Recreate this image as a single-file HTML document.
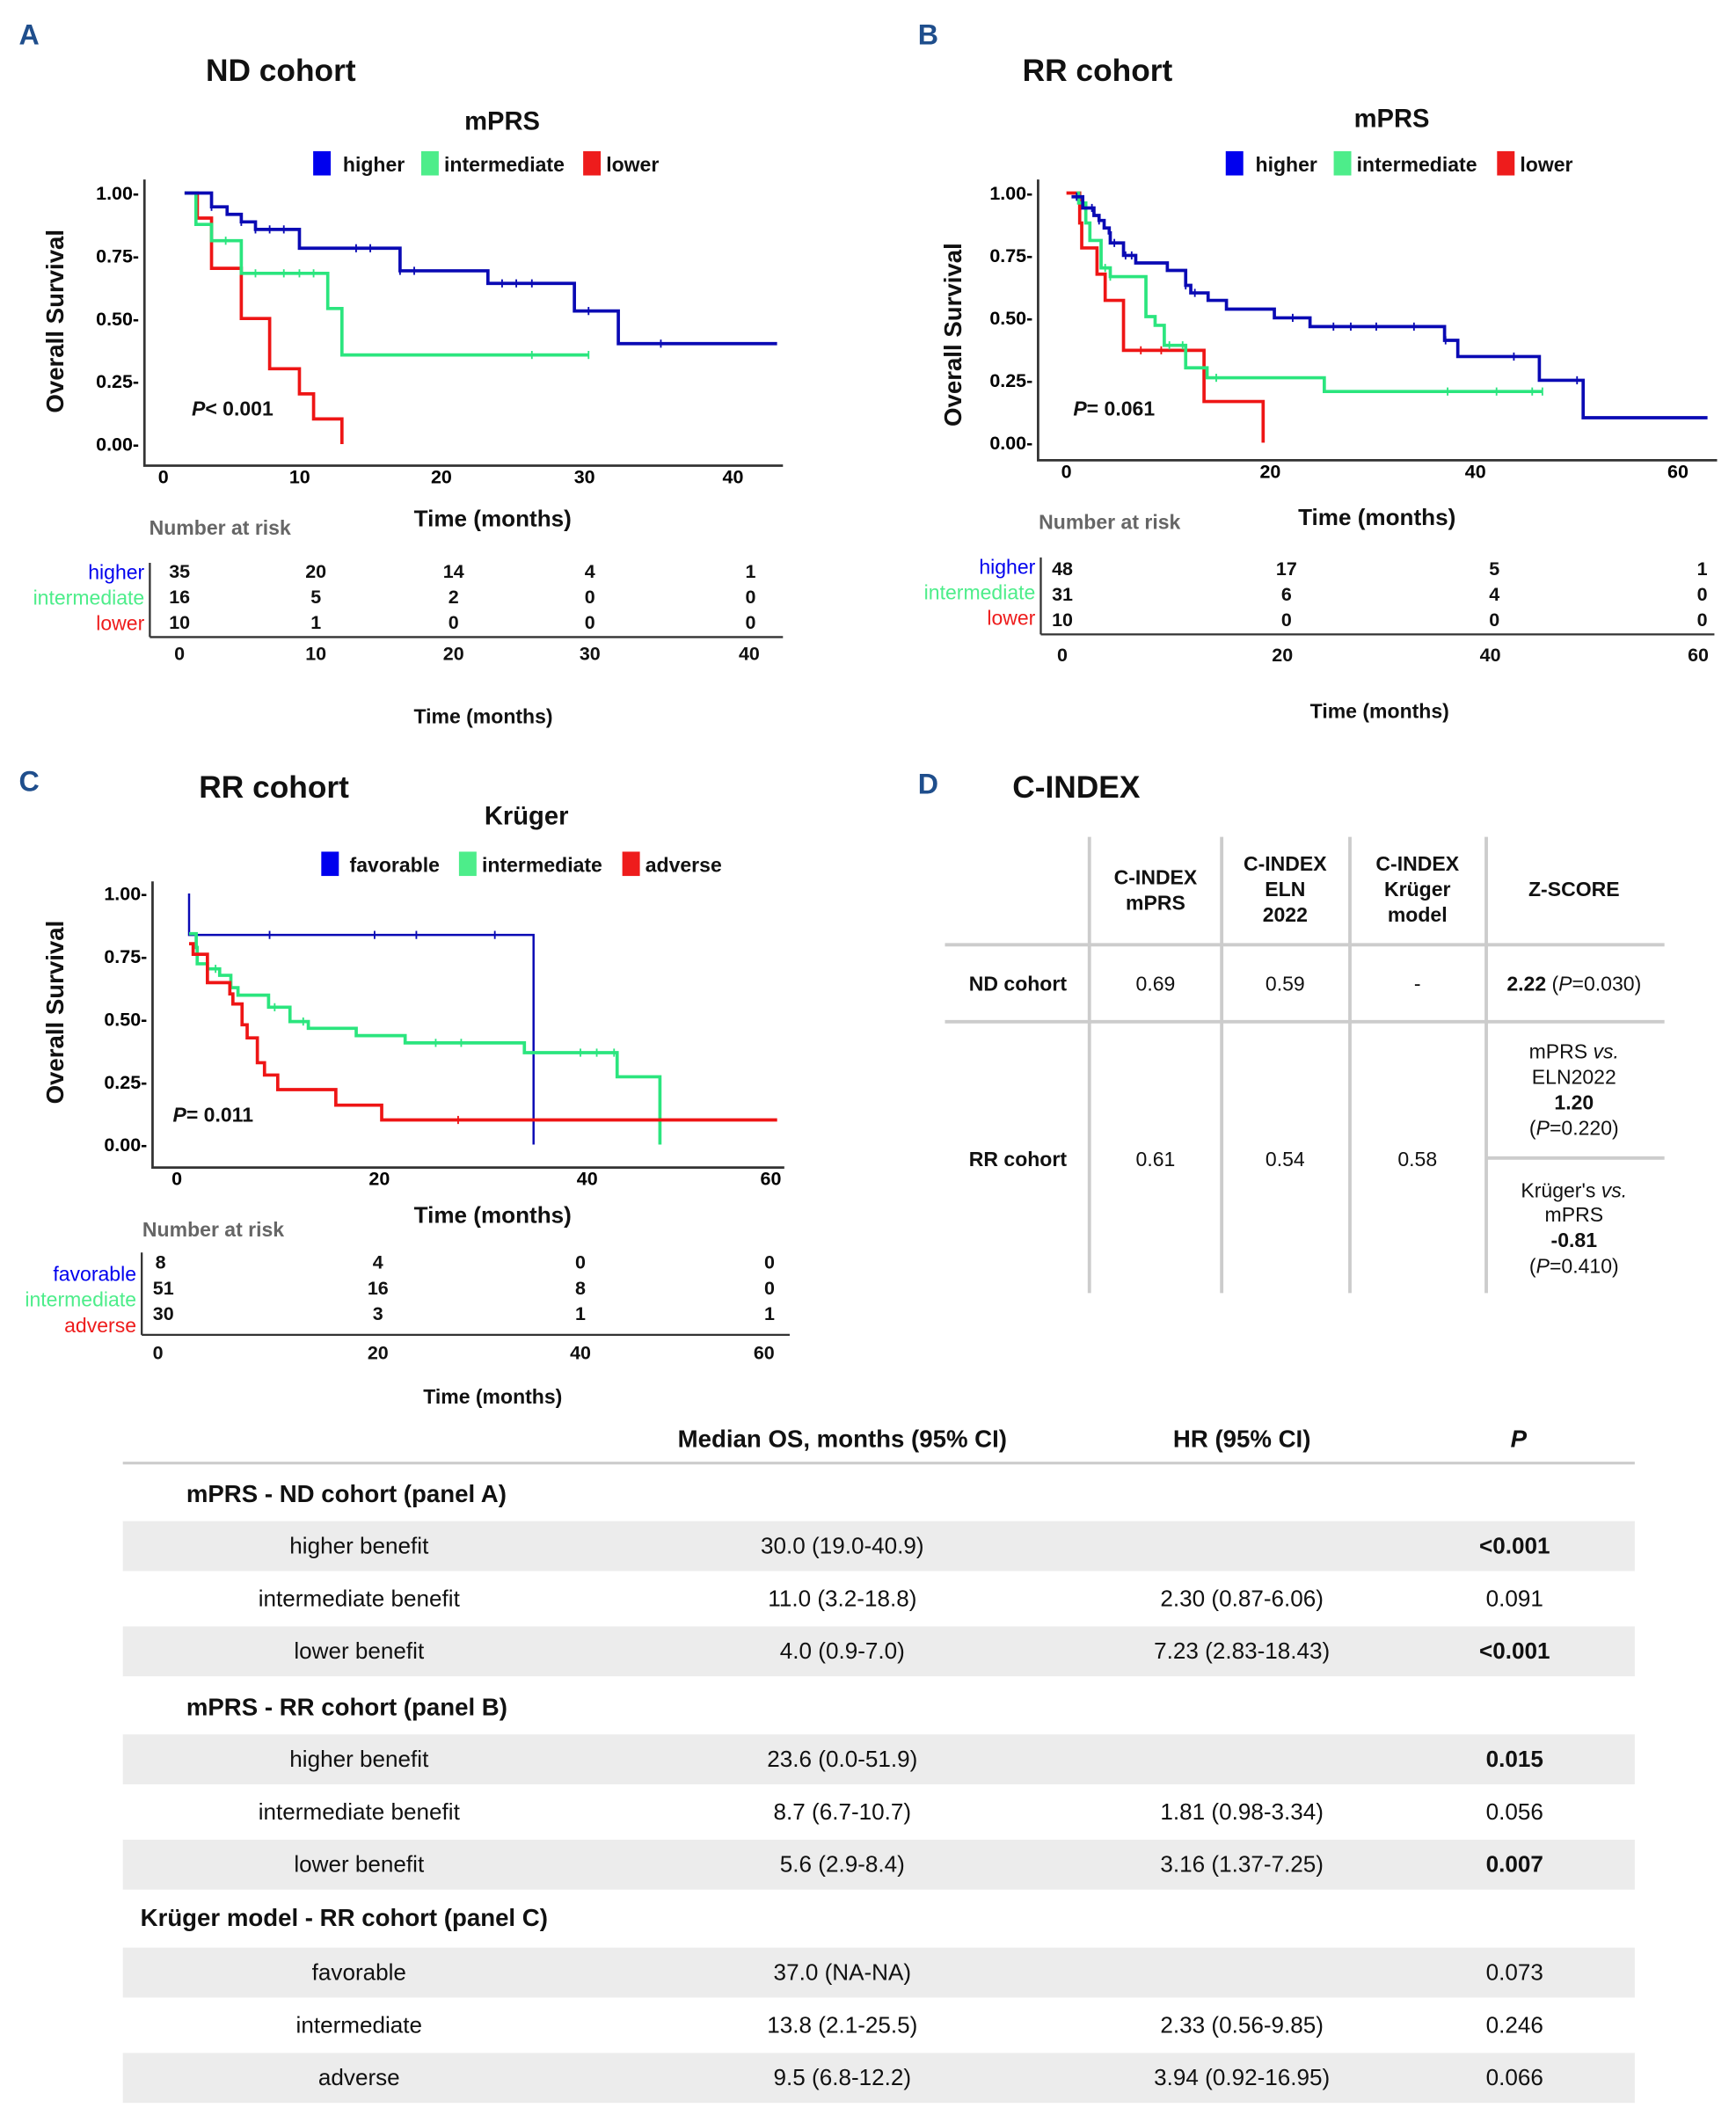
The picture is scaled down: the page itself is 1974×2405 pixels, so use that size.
<!DOCTYPE html>
<html><head><meta charset="utf-8"><style>
html,body{margin:0;padding:0;background:#fff;}
svg{display:block;}
text{font-family:"Liberation Sans","Noto Sans CJK SC",sans-serif;}
.b{font-weight:bold;}
</style></head><body>
<svg id="fig" width="1974" height="2405" viewBox="0 0 1286 1567" preserveAspectRatio="none" xmlns="http://www.w3.org/2000/svg">
<g id="static" fill="#111">
<text x="14" y="33" class="b" font-size="21" fill="#1f4e8c">A</text>
<text x="680" y="33" class="b" font-size="21" fill="#1f4e8c">B</text>
<text x="14" y="586" class="b" font-size="21" fill="#1f4e8c">C</text>
<text x="680" y="588" class="b" font-size="21" fill="#1f4e8c">D</text>

<text x="208" y="60" text-anchor="middle" class="b" font-size="23">ND cohort</text>
<text x="372" y="96" text-anchor="middle" class="b" font-size="19">mPRS</text>
<g font-size="15" class="b">
<rect x="232" y="112" width="13" height="18" fill="#0000ee"/><text x="254" y="127">higher</text>
<rect x="312" y="112" width="13" height="18" fill="#4ded8a"/><text x="329" y="127">intermediate</text>
<rect x="432" y="112" width="13" height="18" fill="#ee1c1c"/><text x="449" y="127">lower</text>
</g>
<text x="813" y="60" text-anchor="middle" class="b" font-size="23">RR cohort</text>
<text x="1031" y="94" text-anchor="middle" class="b" font-size="19">mPRS</text>
<g font-size="15" class="b">
<rect x="908" y="112" width="13" height="18" fill="#0000ee"/><text x="930" y="127">higher</text>
<rect x="988" y="112" width="13" height="18" fill="#4ded8a"/><text x="1005" y="127">intermediate</text>
<rect x="1109" y="112" width="13" height="18" fill="#ee1c1c"/><text x="1126" y="127">lower</text>
</g>
<text x="203" y="591" text-anchor="middle" class="b" font-size="23">RR cohort</text>
<text x="390" y="611" text-anchor="middle" class="b" font-size="19">Krüger</text>
<g font-size="15" class="b">
<rect x="238" y="631" width="13" height="18" fill="#0000ee"/><text x="259" y="646">favorable</text>
<rect x="340" y="631" width="13" height="18" fill="#4ded8a"/><text x="357" y="646">intermediate</text>
<rect x="461" y="631" width="13" height="18" fill="#ee1c1c"/><text x="478" y="646">adverse</text>
</g>

<text transform="translate(47,238) rotate(-90)" text-anchor="middle" class="b" font-size="18">Overall Survival</text>
<text transform="translate(712,248) rotate(-90)" text-anchor="middle" class="b" font-size="18">Overall Survival</text>
<text transform="translate(47,750) rotate(-90)" text-anchor="middle" class="b" font-size="18">Overall Survival</text>

<text x="365" y="390" text-anchor="middle" class="b" font-size="17">Time (months)</text>
<text x="1020" y="389" text-anchor="middle" class="b" font-size="17">Time (months)</text>
<text x="365" y="906" text-anchor="middle" class="b" font-size="17">Time (months)</text>

<text x="142" y="308" class="b" font-size="15"><tspan font-style="italic">P</tspan>&lt; 0.001</text>
<text x="795" y="308" class="b" font-size="15"><tspan font-style="italic">P</tspan>= 0.061</text>
<text x="128" y="831" class="b" font-size="15"><tspan font-style="italic">P</tspan>= 0.011</text>

<g font-size="14">
<text x="163" y="396" text-anchor="middle" class="b" fill="#666" font-size="15">Number at risk</text>
<text x="107" y="429" text-anchor="end" fill="#0000ee" font-size="15">higher</text>
<text x="107" y="448" text-anchor="end" fill="#4ded8a" font-size="15">intermediate</text>
<text x="107" y="467" text-anchor="end" fill="#ee1c1c" font-size="15">lower</text>
<line x1="111" y1="417" x2="111" y2="472" stroke="#333" stroke-width="1.5"/>
<line x1="111" y1="472" x2="580" y2="472" stroke="#333" stroke-width="1.5"/>
<g class="b" text-anchor="middle">
<text x="133" y="428">35</text><text x="234" y="428">20</text><text x="336" y="428">14</text><text x="437" y="428">4</text><text x="556" y="428">1</text>
<text x="133" y="447">16</text><text x="234" y="447">5</text><text x="336" y="447">2</text><text x="437" y="447">0</text><text x="556" y="447">0</text>
<text x="133" y="466">10</text><text x="234" y="466">1</text><text x="336" y="466">0</text><text x="437" y="466">0</text><text x="556" y="466">0</text>
<text x="133" y="489">0</text><text x="234" y="489">10</text><text x="336" y="489">20</text><text x="437" y="489">30</text><text x="555" y="489">40</text>
</g>
<text x="358" y="536" text-anchor="middle" class="b" font-size="15">Time (months)</text>
</g>
<g font-size="14">
<text x="822" y="392" text-anchor="middle" class="b" fill="#666" font-size="15">Number at risk</text>
<text x="767" y="425" text-anchor="end" fill="#0000ee" font-size="15">higher</text>
<text x="767" y="444" text-anchor="end" fill="#4ded8a" font-size="15">intermediate</text>
<text x="767" y="463" text-anchor="end" fill="#ee1c1c" font-size="15">lower</text>
<line x1="771" y1="413" x2="771" y2="470" stroke="#333" stroke-width="1.5"/>
<line x1="771" y1="470" x2="1270" y2="470" stroke="#333" stroke-width="1.5"/>
<g class="b" text-anchor="middle">
<text x="787" y="426">48</text><text x="953" y="426">17</text><text x="1107" y="426">5</text><text x="1261" y="426">1</text>
<text x="787" y="445">31</text><text x="953" y="445">6</text><text x="1107" y="445">4</text><text x="1261" y="445">0</text>
<text x="787" y="464">10</text><text x="953" y="464">0</text><text x="1107" y="464">0</text><text x="1261" y="464">0</text>
<text x="787" y="490">0</text><text x="950" y="490">20</text><text x="1104" y="490">40</text><text x="1258" y="490">60</text>
</g>
<text x="1022" y="532" text-anchor="middle" class="b" font-size="15">Time (months)</text>
</g>
<g font-size="14">
<text x="158" y="916" text-anchor="middle" class="b" fill="#666" font-size="15">Number at risk</text>
<text x="101" y="949" text-anchor="end" fill="#0000ee" font-size="15">favorable</text>
<text x="101" y="968" text-anchor="end" fill="#4ded8a" font-size="15">intermediate</text>
<text x="101" y="987" text-anchor="end" fill="#ee1c1c" font-size="15">adverse</text>
<line x1="105" y1="928" x2="105" y2="989" stroke="#333" stroke-width="1.5"/>
<line x1="105" y1="989" x2="585" y2="989" stroke="#333" stroke-width="1.5"/>
<g class="b" text-anchor="middle">
<text x="119" y="940">8</text><text x="280" y="940">4</text><text x="430" y="940">0</text><text x="570" y="940">0</text>
<text x="121" y="959">51</text><text x="280" y="959">16</text><text x="430" y="959">8</text><text x="570" y="959">0</text>
<text x="121" y="978">30</text><text x="280" y="978">3</text><text x="430" y="978">1</text><text x="570" y="978">1</text>
<text x="117" y="1007">0</text><text x="280" y="1007">20</text><text x="430" y="1007">40</text><text x="566" y="1007">60</text>
</g>
<text x="365" y="1040" text-anchor="middle" class="b" font-size="15">Time (months)</text>
</g>

<g font-size="15">
<text x="750" y="591" class="b" font-size="23">C-INDEX</text>
<g stroke="#ccc" stroke-width="2.5">
<line x1="807" y1="620" x2="807" y2="958"/><line x1="905" y1="620" x2="905" y2="958"/>
<line x1="1000" y1="620" x2="1000" y2="958"/><line x1="1101" y1="620" x2="1101" y2="958"/>
<line x1="700" y1="700" x2="1233" y2="700"/><line x1="700" y1="757" x2="1233" y2="757"/>
<line x1="1101" y1="858" x2="1233" y2="858"/>
</g>
<g class="b" text-anchor="middle">
<text x="856" y="655">C-INDEX</text><text x="856" y="674">mPRS</text>
<text x="952" y="645">C-INDEX</text><text x="952" y="664">ELN</text><text x="952" y="683">2022</text>
<text x="1050" y="645">C-INDEX</text><text x="1050" y="664">Krüger</text><text x="1050" y="683">model</text>
<text x="1166" y="664">Z-SCORE</text>
<text x="754" y="734">ND cohort</text>
<text x="754" y="864">RR cohort</text>
</g>
<g text-anchor="middle">
<text x="856" y="734">0.69</text><text x="952" y="734">0.59</text><text x="1050" y="734">-</text>
<text x="1166" y="734"><tspan font-weight="bold">2.22</tspan> (<tspan font-style="italic">P</tspan>=0.030)</text>
<text x="856" y="864">0.61</text><text x="952" y="864">0.54</text><text x="1050" y="864">0.58</text>
<text x="1166" y="784">mPRS <tspan font-style="italic">vs.</tspan></text>
<text x="1166" y="803">ELN2022</text>
<text x="1166" y="822" font-weight="bold">1.20</text>
<text x="1166" y="841">(<tspan font-style="italic">P</tspan>=0.220)</text>
<text x="1166" y="887">Krüger's <tspan font-style="italic">vs.</tspan></text>
<text x="1166" y="905">mPRS</text>
<text x="1166" y="924" font-weight="bold">-0.81</text>
<text x="1166" y="943">(<tspan font-style="italic">P</tspan>=0.410)</text>
</g>
</g>

<g font-size="17">
<g fill="#ececec">
<rect x="91" y="1127" width="1120" height="37"/><rect x="91" y="1205" width="1120" height="37"/>
<rect x="91" y="1285" width="1120" height="37"/><rect x="91" y="1363" width="1120" height="37"/>
<rect x="91" y="1443" width="1120" height="37"/><rect x="91" y="1521" width="1120" height="37"/>
</g>
<line x1="91" y1="1084" x2="1211" y2="1084" stroke="#ccc" stroke-width="2"/>
<g class="b" font-size="18" text-anchor="middle">
<text x="624" y="1072">Median OS, months (95% CI)</text>
<text x="920" y="1072">HR (95% CI)</text>
<text x="1125" y="1072" font-style="italic">P</text>
</g>
<g class="b" font-size="18">
<text x="138" y="1113">mPRS - ND cohort (panel A)</text>
<text x="138" y="1271">mPRS - RR cohort (panel B)</text>
<text x="104" y="1427">Krüger model - RR cohort (panel C)</text>
</g>
<g text-anchor="middle">
<text x="266" y="1151">higher benefit</text><text x="624" y="1151">30.0 (19.0-40.9)</text><text x="1122" y="1151" font-weight="bold">&lt;0.001</text>
<text x="266" y="1190">intermediate benefit</text><text x="624" y="1190">11.0 (3.2-18.8)</text><text x="920" y="1190">2.30 (0.87-6.06)</text><text x="1122" y="1190">0.091</text>
<text x="266" y="1229">lower benefit</text><text x="624" y="1229">4.0 (0.9-7.0)</text><text x="920" y="1229">7.23 (2.83-18.43)</text><text x="1122" y="1229" font-weight="bold">&lt;0.001</text>
<text x="266" y="1309">higher benefit</text><text x="624" y="1309">23.6 (0.0-51.9)</text><text x="1122" y="1309" font-weight="bold">0.015</text>
<text x="266" y="1348">intermediate benefit</text><text x="624" y="1348">8.7 (6.7-10.7)</text><text x="920" y="1348">1.81 (0.98-3.34)</text><text x="1122" y="1348">0.056</text>
<text x="266" y="1387">lower benefit</text><text x="624" y="1387">5.6 (2.9-8.4)</text><text x="920" y="1387">3.16 (1.37-7.25)</text><text x="1122" y="1387" font-weight="bold">0.007</text>
<text x="266" y="1467">favorable</text><text x="624" y="1467">37.0 (NA-NA)</text><text x="1122" y="1467">0.073</text>
<text x="266" y="1506">intermediate</text><text x="624" y="1506">13.8 (2.1-25.5)</text><text x="920" y="1506">2.33 (0.56-9.85)</text><text x="1122" y="1506">0.246</text>
<text x="266" y="1545">adverse</text><text x="624" y="1545">9.5 (6.8-12.2)</text><text x="920" y="1545">3.94 (0.92-16.95)</text><text x="1122" y="1545">0.066</text>
</g>
</g>
</g>
<g id="plots"></g>
</svg>
<script>
// Panel A (ND cohort, mPRS)
const aHigherT = [1.5, 3.4, 4.5, 5.5, 6.5, 9.6, 16.7, 22.9, 29.0, 32.1, 43.3];
const aHigherS = [1.0, 0.945, 0.915, 0.885, 0.855, 0.78, 0.69, 0.64, 0.53, 0.40, 0.40];
const aHigherC = [3.4, 5.5, 6.5, 7.5, 8.5, 13.6, 14.6, 16.7, 17.7, 23.9, 24.9, 26.0, 30.0, 35.1];
const aInterT = [1.5, 2.3, 3.4, 5.5, 11.6, 12.6, 30.0];
const aInterS = [1.0, 0.875, 0.81, 0.68, 0.54, 0.355, 0.355];
const aInterC = [4.4, 6.5, 8.5, 9.6, 10.6, 26.0, 30.0];
const aLowerT = [1.5, 2.4, 3.4, 5.5, 7.5, 9.6, 10.6, 12.6, 12.6];
const aLowerS = [1.0, 0.9, 0.7, 0.5, 0.3, 0.2, 0.1, 0.0, 0.0];
const aLowerC = [];
const aXTicks = [0, 10, 20, 30, 40];
const aYTicks = [0, 0.25, 0.5, 0.75, 1.0];
// Panel B (RR cohort, mPRS)
const bHigherT = [0.5, 1.6, 2.7, 3.2, 3.7, 4.2, 4.3, 5.6, 6.8, 9.9, 11.7, 12.2, 13.9, 15.7, 20.4, 23.9, 37.1, 38.4, 46.4, 50.7, 62.9];
const bHigherS = [0.985, 0.94, 0.91, 0.89, 0.86, 0.84, 0.80, 0.75, 0.72, 0.69, 0.63, 0.60, 0.57, 0.535, 0.50, 0.465, 0.41, 0.345, 0.25, 0.10, 0.10];
const bHigherC = [1.0, 2.5, 3.2, 4.7, 5.8, 6.4, 11.7, 12.6, 22.2, 26.2, 27.9, 30.4, 34.1, 37.2, 43.9, 50.1];
const bInterT = [1.0, 1.2, 1.9, 2.3, 3.4, 4.3, 7.8, 8.7, 9.6, 11.7, 13.8, 25.3, 46.7];
const bInterS = [1.0, 0.96, 0.88, 0.81, 0.70, 0.665, 0.505, 0.47, 0.39, 0.30, 0.26, 0.205, 0.205];
const bInterC = [3.8, 4.3, 10.1, 11.4, 14.7, 37.4, 42.2, 45.7, 46.7];
const bLowerT = [0.0, 1.3, 1.5, 3.0, 3.8, 5.6, 13.5, 19.3, 19.3];
const bLowerS = [1.0, 0.88, 0.78, 0.675, 0.57, 0.37, 0.165, 0.0, 0.0];
const bLowerC = [7.3, 9.3];
const bXTicks = [0, 20, 40, 60];
const bYTicks = [0, 0.25, 0.5, 0.75, 1.0];
// Panel C (RR cohort, Krüger)
const cFavT = [1.2, 1.2, 35.0, 35.0];
const cFavS = [1.0, 0.835, 0.835, 0.0];
const cFavC = [9.1, 19.4, 23.5, 31.2];
const cInterT = [1.2, 1.9, 2.0, 3.0, 4.2, 5.3, 6.0, 9.0, 11.1, 12.9, 17.6, 22.4, 34.1, 43.2, 47.4, 47.4];
const cInterS = [0.84, 0.785, 0.72, 0.70, 0.674, 0.625, 0.595, 0.547, 0.49, 0.463, 0.434, 0.405, 0.366, 0.27, 0.0, 0.0];
const cInterC = [3.8, 9.6, 12.4, 25.4, 27.9, 39.6, 41.2, 42.9];
const cAdvT = [1.2, 1.6, 3.0, 5.2, 5.5, 6.4, 6.9, 7.9, 8.6, 9.9, 15.6, 20.1, 58.9];
const cAdvS = [0.80, 0.758, 0.645, 0.60, 0.56, 0.477, 0.425, 0.326, 0.277, 0.219, 0.157, 0.098, 0.098];
const cAdvC = [27.6];
const cXTicks = [0, 20, 40, 60];
const cYTicks = [0, 0.25, 0.5, 0.75, 1.0];

const NS = 'http://www.w3.org/2000/svg';
const plots = document.getElementById('plots');
function mk(tag, attrs, parent) {
  const e = document.createElementNS(NS, tag);
  for (const k in attrs) e.setAttribute(k, attrs[k]);
  parent.appendChild(e);
  return e;
}
function stepY(T, S, t) { let s = S[0]; for (let i = 0; i < T.length; i++) { if (T[i] <= t) s = S[i]; } return s; }

function panel(name, cfg) {
  const g = mk('g', {}, plots);
  
  
  const xs = t => cfg.x0 + t * cfg.xk;
  const ys = s => cfg.y0 + (1 - s) * (cfg.y1 - cfg.y0);
  const ax = mk('path', {d: `M${cfg.axX},${cfg.axTop} L${cfg.axX},${cfg.axBot} L${cfg.axRight},${cfg.axBot}`, fill: 'none', stroke: '#333', 'stroke-width': 1.8}, g);
  
  
  cfg.yTicks.forEach(v => {
    const t = mk('text', {x: cfg.axX - 4, y: ys(v) + 5, 'text-anchor': 'end', 'font-size': 14, 'font-weight': 'bold'}, g);
    t.textContent = v.toFixed(2) + '-';
    
    
  });
  cfg.xTicks.forEach((v, i) => {
    const t = mk('text', {x: cfg.xLab ? cfg.xLab[i] : xs(v), y: cfg.axBot + 13, 'text-anchor': 'middle', 'font-size': 14, 'font-weight': 'bold'}, g);
    t.textContent = v;
    
    
  });
  cfg.series.forEach(sr => {
    let d = `M${xs(sr.T[0])},${ys(sr.S[0])}`;
    for (let i = 1; i < sr.T.length; i++) {
      d += ` L${xs(sr.T[i])},${ys(sr.S[i - 1])} L${xs(sr.T[i])},${ys(sr.S[i])}`;
    }
    const p = mk('path', {d: d, fill: 'none', stroke: sr.color, 'stroke-width': sr.w || 2.4}, g);
    
    
    sr.C.forEach(c => {
      const yy = ys(stepY(sr.T, sr.S, c));
      const m = mk('line', {x1: xs(c), x2: xs(c), y1: yy - 3, y2: yy + 3, stroke: sr.color, 'stroke-width': 1.2}, g);
      
      
    });
  });
}
const BLUE = '#0a0ab4', GREEN = '#2be57e', RED = '#ee1515';
panel('panel-a', {x0: 121, xk: 10.5, y0: 143, y1: 329, axX: 107, axTop: 133, axBot: 345, axRight: 580,
  xTicks: aXTicks, yTicks: aYTicks, xLab: [121, 222, 327, 433, 543],
  series: [
    {key: 'lower', T: aLowerT, S: aLowerS, C: aLowerC, color: RED},
    {key: 'intermediate', T: aInterT, S: aInterS, C: aInterC, color: GREEN},
    {key: 'higher', T: aHigherT, S: aHigherS, C: aHigherC, color: BLUE}]});
panel('panel-b', {x0: 790, xk: 7.55, y0: 143, y1: 328, axX: 769, axTop: 133, axBot: 341, axRight: 1272,
  xTicks: bXTicks, yTicks: bYTicks, xLab: [790, 941, 1093, 1243],
  series: [
    {key: 'lower', T: bLowerT, S: bLowerS, C: bLowerC, color: RED},
    {key: 'intermediate', T: bInterT, S: bInterS, C: bInterC, color: GREEN},
    {key: 'higher', T: bHigherT, S: bHigherS, C: bHigherC, color: BLUE}]});
panel('panel-c', {x0: 131, xk: 7.55, y0: 662, y1: 848, axX: 113, axTop: 653, axBot: 865, axRight: 581,
  xTicks: cXTicks, yTicks: cYTicks, xLab: [131, 281, 435, 571],
  series: [
    {key: 'favorable', T: cFavT, S: cFavS, C: cFavC, color: BLUE, w: 1.6},
    {key: 'intermediate', T: cInterT, S: cInterS, C: cInterC, color: GREEN},
    {key: 'adverse', T: cAdvT, S: cAdvS, C: cAdvC, color: RED}]});
</script>
</body></html>
